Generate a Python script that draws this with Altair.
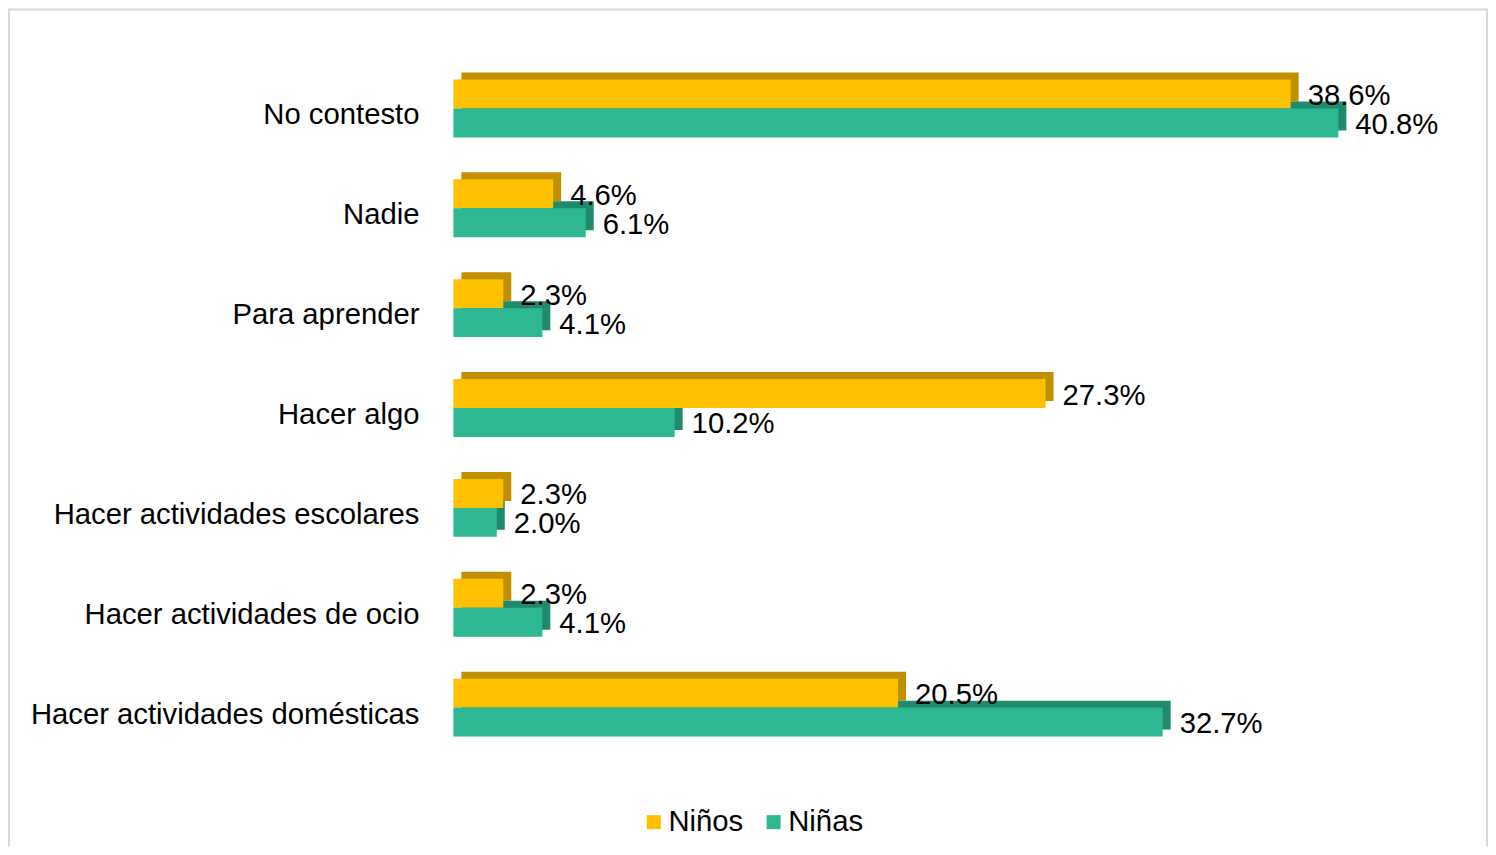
import altair as alt
import pandas as pd

categories = ["No contesto", "Nadie", "Para aprender", "Hacer algo",
              "Hacer actividades escolares", "Hacer actividades de ocio",
              "Hacer actividades domésticas"]
series = ["Niños", "Niñas"]
ninos = [38.6, 4.6, 2.3, 27.3, 2.3, 2.3, 20.5]
ninas = [40.8, 6.1, 4.1, 10.2, 2.0, 4.1, 32.7]

front_colors = ["#FFC000", "#2EB793"]
side_colors = ["#C09000", "#1F8A6C"]

rows = []
for c, a, b in zip(categories, ninos, ninas):
    rows.append({"Categoria": c, "Serie": "Niños", "Valor": a})
    rows.append({"Categoria": c, "Serie": "Niñas", "Valor": b})
df = pd.DataFrame(rows)
cat_df = pd.DataFrame({"Categoria": categories})
frame_df = pd.DataFrame({"k": [0]})

FONT = "Liberation Sans"
FS = 29.3
H = 839

xscale = alt.Scale(domain=[0, 45], range=[446, 446 + 21.72 * 45], nice=False, zero=True)
yscale = alt.Scale(domain=categories, range=[50, 750], paddingInner=0.42, paddingOuter=0.21)
yscale_back = alt.Scale(domain=categories, range=[43, 743], paddingInner=0.42, paddingOuter=0.21)
yoff_scale = alt.Scale(domain=series, paddingInner=0, paddingOuter=0)

X = alt.X("Valor:Q", scale=xscale, axis=None)
Y = alt.Y("Categoria:N", scale=yscale, axis=None, sort=categories)
Yb = alt.Y("Categoria:N", scale=yscale_back, axis=None, sort=categories)
YO = alt.YOffset("Serie:N", scale=yoff_scale, sort=series)

base = alt.Chart(df)

shadow = base.mark_bar(xOffset=8).encode(
    x=X, y=Yb, yOffset=YO,
    color=alt.Color("Serie:N", scale=alt.Scale(domain=series, range=side_colors), legend=None),
)

front = base.mark_bar().encode(
    x=X, y=Y, yOffset=YO,
    color=alt.Color("Serie:N", scale=alt.Scale(domain=series, range=front_colors),
                    legend=alt.Legend(title=None, orient="none", legendX=632, legendY=800,
                                      direction="horizontal", symbolType="square",
                                      symbolSize=196, symbolStrokeWidth=0,
                                      labelFontSize=FS, labelFont=FONT, labelColor="#000000",
                                      labelOffset=0, columnPadding=15, padding=0)),
)

values = base.transform_calculate(
    label="format(datum.Valor, '.1f') + '%'"
).mark_text(align="left", baseline="middle", dx=17, dy=2, fontSize=FS, font=FONT,
            color="#000000").encode(
    x=X, y=Y, yOffset=YO, text="label:N"
)

cat_labels = alt.Chart(cat_df).mark_text(align="right", baseline="middle", dy=7,
                                          fontSize=FS, font=FONT, color="#000000").encode(
    x=alt.value(412), y=Y, text="Categoria:N"
)

frame_top = alt.Chart(frame_df).mark_rule(stroke="#D9D9D9", strokeWidth=2).encode(
    x=alt.value(0), x2=alt.value(1482), y=alt.value(1), y2=alt.value(1)
)
frame_left = alt.Chart(frame_df).mark_rule(stroke="#D9D9D9", strokeWidth=2).encode(
    x=alt.value(1), x2=alt.value(1), y=alt.value(0), y2=alt.value(H)
)
frame_right = alt.Chart(frame_df).mark_rule(stroke="#D9D9D9", strokeWidth=2).encode(
    x=alt.value(1481), x2=alt.value(1481), y=alt.value(0), y2=alt.value(H)
)

chart = alt.layer(frame_top, frame_left, frame_right, shadow, front, values, cat_labels).resolve_scale(
    color="independent", y="independent"
).properties(
    width=1482, height=H, padding=0, autosize=alt.AutoSizeParams(type="none")
).configure(font=FONT).configure_view(stroke="transparent", strokeWidth=0)

chart.save("out.html", embed_options={"renderer": "svg", "actions": False})
